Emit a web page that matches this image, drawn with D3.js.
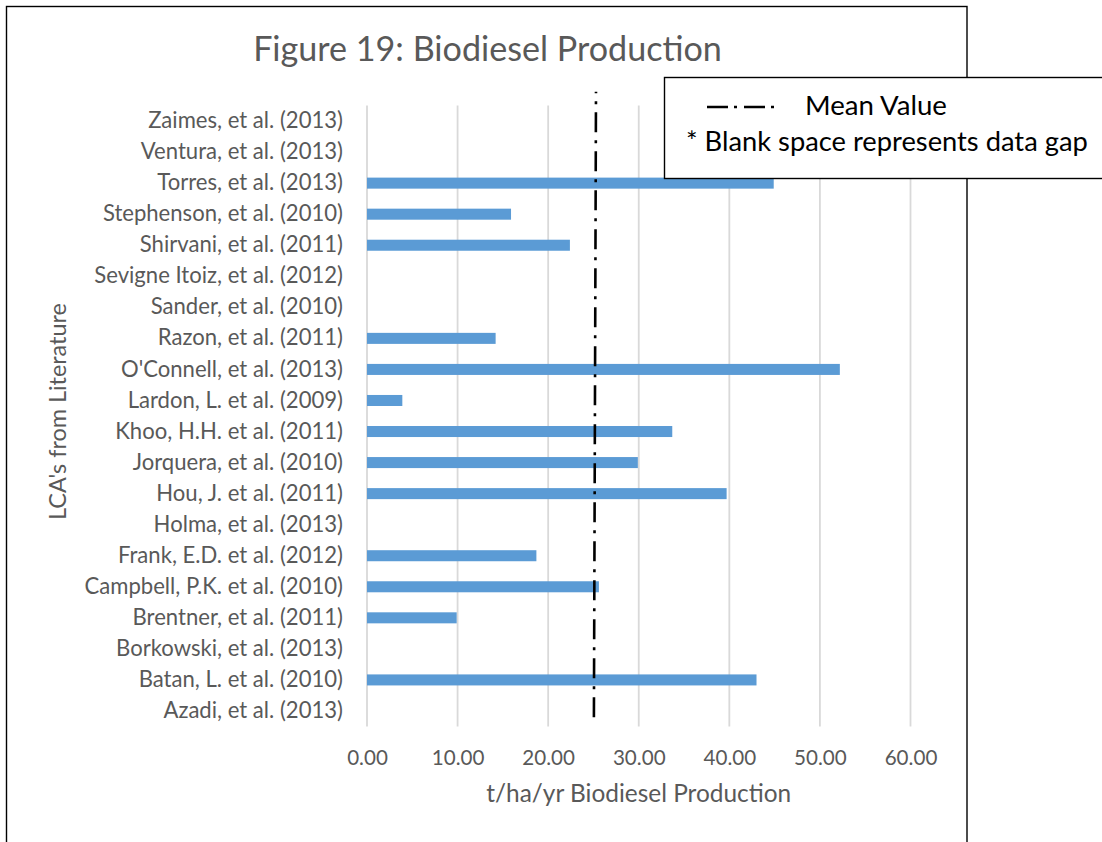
<!DOCTYPE html>
<html>
<head>
<meta charset="utf-8">
<script src="https://cdn.jsdelivr.net/npm/d3@7"></script>
<style>
  html, body { margin: 0; padding: 0; background: #fff; }
  svg { display: block; }
  text { font-family: Lato, "Open Sans", sans-serif; }
</style>
</head>
<body>
<svg id="chart" width="1102" height="842"></svg>
<script>
// ---- data ----
const categories = [
  "Zaimes, et al. (2013)", "Ventura, et al. (2013)", "Torres, et al. (2013)",
  "Stephenson, et al. (2010)", "Shirvani, et al. (2011)", "Sevigne Itoiz, et al. (2012)",
  "Sander, et al. (2010)", "Razon, et al. (2011)", "O'Connell, et al. (2013)",
  "Lardon, L. et al. (2009)", "Khoo, H.H. et al. (2011)", "Jorquera, et al. (2010)",
  "Hou, J. et al. (2011)", "Holma, et al. (2013)", "Frank, E.D. et al. (2012)",
  "Campbell, P.K. et al. (2010)", "Brentner, et al. (2011)", "Borkowski, et al. (2013)",
  "Batan, L. et al. (2010)", "Azadi, et al. (2013)"
];
const values = [
  null, null, 44.9,
  15.9, 22.4, null,
  null, 14.2, 52.2,
  3.9, 33.7, 29.9,
  39.7, null, 18.7,
  25.6, 9.9, null,
  43.0, null
];
const xTicks = [0, 10, 20, 30, 40, 50, 60];
// mean value line drawn as a two-point series on a secondary 0..1 vertical axis
const meanLineX = [25.05, 25.28];
const meanLineY = [0.015, 1.022];
const titleText = "Figure 19: Biodiesel Production";
const xTitle = "t/ha/yr Biodiesel Production";
const yTitle = "LCA's from Literature";
const legendMean = "Mean Value";
const legendNote = "* Blank space represents data gap";

// ---- layout ----
const svg = d3.select("#chart");
const plot = { left: 367, right: 910.5, top: 105.5, bottom: 726.5 };
const grey = "#595959";
const gridColor = "#d9d9d9";
const barColor = "#5b9bd5";

function fit(sel, target) {
  sel.style("font-size", "20px");
  const w = sel.node().getComputedTextLength();
  const fs = 20 * target / w;
  sel.style("font-size", fs + "px");
  return fs;
}

svg.append("rect").attr("width", 1102).attr("height", 842).attr("fill", "#fff");

// chart frame
svg.append("rect")
  .attr("x", 6.5).attr("y", 6.5).attr("width", 960.5).attr("height", 900)
  .attr("fill", "none").attr("stroke", "#000").attr("stroke-width", 1.4);

const x = d3.scaleLinear().domain([0, 60]).range([plot.left, plot.right]);
const y = d3.scaleBand().domain(categories).range([plot.top, plot.bottom]).paddingInner(0.645).paddingOuter(0.3225);
const y2 = d3.scaleLinear().domain([0, 1]).range([plot.bottom, plot.top]);

// gridlines
svg.append("g").selectAll("line").data(xTicks).join("line")
  .attr("x1", d => x(d)).attr("x2", d => x(d))
  .attr("y1", plot.top).attr("y2", plot.bottom)
  .attr("stroke", gridColor).attr("stroke-width", 1.8);

// bars
svg.append("g").selectAll("rect")
  .data(categories.map((c, i) => ({ c, v: values[i] })).filter(d => d.v !== null))
  .join("rect")
  .attr("x", x(0))
  .attr("y", d => y(d.c))
  .attr("width", d => x(d.v) - x(0))
  .attr("height", y.bandwidth())
  .attr("fill", barColor);

// mean line
const meanPts = meanLineX.map((v, i) => [x(v), y2(meanLineY[i])]);
svg.append("path")
  .attr("d", d3.line()(meanPts))
  .attr("stroke", "#000").attr("stroke-width", 2.6)
  .attr("stroke-dasharray", "20,8,3,8")
  .attr("fill", "none");

// y axis labels
const yAxis = svg.append("g")
  .attr("transform", `translate(${plot.left},0)`)
  .call(d3.axisLeft(y).tickSize(0).tickPadding(24));
yAxis.select(".domain").remove();
yAxis.selectAll("text").attr("fill", grey).style("font-family", "Lato, 'Open Sans', sans-serif");
const yLabFs = fit(yAxis.selectAll("text").filter(d => d === categories[0]), 195);
yAxis.selectAll("text").style("font-size", yLabFs + "px");

// x axis labels
const xAxis = svg.append("g")
  .attr("transform", `translate(0,${plot.bottom})`)
  .call(d3.axisBottom(x).tickValues(xTicks).tickFormat(d3.format(".2f")).tickSize(0));
xAxis.select(".domain").remove();
xAxis.selectAll("text").attr("fill", grey).attr("y", 38.5).attr("dy", 0)
  .style("font-family", "Lato, 'Open Sans', sans-serif");
const xLabFs = fit(xAxis.selectAll("text").filter(d => d === 10), 52.7);
xAxis.selectAll("text").style("font-size", xLabFs + "px");

// title
const t = svg.append("text").attr("x", 487.5).attr("y", 61)
  .attr("text-anchor", "middle").attr("fill", grey).text(titleText);
fit(t, 469);

// axis titles
const xt = svg.append("text").attr("x", (plot.left + plot.right) / 2).attr("y", 802)
  .attr("text-anchor", "middle").attr("fill", grey).text(xTitle);
fit(xt, 305);

const yt = svg.append("text")
  .attr("transform", `translate(66,411.5) rotate(-90)`)
  .attr("text-anchor", "middle").attr("fill", grey).text(yTitle);
fit(yt, 217);

// legend
const lg = svg.append("g");
lg.append("rect").attr("x", 664.5).attr("y", 77.5).attr("width", 500).attr("height", 101)
  .attr("fill", "#fff").attr("stroke", "#000").attr("stroke-width", 1.4);
lg.append("line").attr("x1", 707).attr("x2", 777).attr("y1", 107).attr("y2", 107)
  .attr("stroke", "#000").attr("stroke-width", 2.6).attr("stroke-dasharray", "21,6,3,7");
const lm = lg.append("text").attr("x", 805).attr("y", 115).attr("fill", "#000").text(legendMean);
fit(lm, 142);
const ln = lg.append("text").attr("x", 686).attr("y", 151).attr("fill", "#000").text(legendNote);
fit(ln, 402);
</script>
</body>
</html>
